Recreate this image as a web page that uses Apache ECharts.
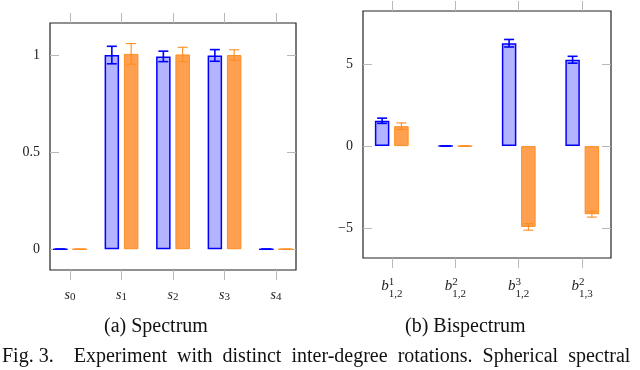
<!DOCTYPE html>
<html>
<head>
<meta charset="utf-8">
<script src="https://cdn.jsdelivr.net/npm/echarts@6/dist/echarts.min.js"></script>
<style>
html, body { margin: 0; padding: 0; background: #fff; }
#main { width: 640px; height: 370px; }
</style>
</head>
<body>
<div id="main"></div>
<script>
// (a) spectrum
var specSub = ['0', '1', '2', '3', '4'];
var specBlue = [0, 1.0, 0.993, 0.998, 0];
var specBlueErr = [0, 0.045, 0.027, 0.03, 0];
var specOrange = [0, 1.006, 1.003, 1.0, 0];
var specOrangeErr = [0, 0.053, 0.037, 0.027, 0];
var specTicks = [0, 0.5, 1];

// (b) bispectrum
var bispSup = ['1', '2', '3', '2'];
var bispSubA = ['1', '1', '1', '1'];
var bispSubB = [',2', ',2', ',2', ',3'];
var bispBlue = [1.55, 0, 6.29, 5.28];
var bispBlueErr = [0.16, 0, 0.23, 0.21];
var bispOrange = [1.22, 0, -4.94, -4.16];
var bispOrangeErr = [0.2, 0, 0.2, 0.18];
var bispTicks = [-5, 0, 5];

var BAR_W = 14.5;
var GAP = 0.33;
var SHIFT = (BAR_W + BAR_W * GAP) / 2;

var BLUE = '#0000ff', BLUE_FILL = '#b3b3ff';
var ORANGE = '#ff8c20', ORANGE_FILL = '#ffa050';
var FONT = 'Liberation Serif';
var TICK = '#b8b8b8';
var CLEAR = 'rgba(0,0,0,0)';

function idx(arr) { return arr.map(function (v, i) { return i; }); }
function pairs(vals) { return vals.map(function (v, i) { return [i, v]; }); }
function errData(vals, errs) {
    return vals.map(function (v, i) { return [i, v - errs[i], v + errs[i]]; });
}

function errSeries(grid, vals, errs, color, width, dx) {
    return {
        type: 'custom',
        xAxisIndex: grid * 2,
        yAxisIndex: grid * 2,
        z: 5,
        silent: true,
        data: errData(vals, errs),
        encode: { x: 0, y: [1, 2] },
        renderItem: function (params, api) {
            var lo = api.coord([api.value(0), api.value(1)]);
            var hi = api.coord([api.value(0), api.value(2)]);
            var x = lo[0] + dx, c = 5;
            var st = { stroke: color, lineWidth: width };
            return {
                type: 'group',
                children: [
                    { type: 'line', shape: { x1: x, y1: lo[1], x2: x, y2: hi[1] }, style: st },
                    { type: 'line', shape: { x1: x - c, y1: lo[1], x2: x + c, y2: lo[1] }, style: st },
                    { type: 'line', shape: { x1: x - c, y1: hi[1], x2: x + c, y2: hi[1] }, style: st }
                ]
            };
        }
    };
}

function barSeries(grid, vals, fill, border, bw) {
    return {
        type: 'bar',
        xAxisIndex: grid * 2,
        yAxisIndex: grid * 2,
        data: pairs(vals),
        barWidth: BAR_W,
        barGap: (GAP * 100) + '%',
        itemStyle: { color: fill, borderColor: border, borderWidth: bw },
        silent: true
    };
}

function xAxes(grid, ticks, min, max, label) {
    return [{
        type: 'value', gridIndex: grid, position: 'bottom', min: min, max: max,
        axisLine: { show: false, onZero: false }, splitLine: { show: false },
        axisTick: { show: true, inside: false, length: 10, customValues: ticks, lineStyle: { color: TICK } },
        axisLabel: label
    }, {
        type: 'value', gridIndex: grid, position: 'top', min: min, max: max,
        axisLine: { show: false, onZero: false }, splitLine: { show: false },
        axisTick: { show: true, inside: false, length: 10, customValues: ticks, lineStyle: { color: TICK } },
        axisLabel: { show: false }
    }];
}

function yAxes(grid, ticks, min, max) {
    var fmt = function (v) { return v < 0 ? '\u2212' + (-v) : String(v); };
    return [{
        type: 'value', gridIndex: grid, position: 'left', min: min, max: max,
        axisLine: { show: false, onZero: false }, splitLine: { show: false },
        axisTick: { show: true, inside: true, length: 9, customValues: ticks, lineStyle: { color: TICK } },
        axisLabel: { customValues: ticks, formatter: fmt, margin: 10, fontFamily: FONT, fontSize: 14, color: '#222' }
    }, {
        type: 'value', gridIndex: grid, position: 'right', min: min, max: max,
        axisLine: { show: false, onZero: false }, splitLine: { show: false },
        axisTick: { show: true, inside: true, length: 9, customValues: ticks, lineStyle: { color: TICK } },
        axisLabel: { show: false }
    }];
}

var specLabel = {
    customValues: idx(specSub), margin: 17,
    formatter: function (v) { return '{s|s}{sub|' + specSub[Math.round(v)] + '}'; },
    rich: {
        s: { fontFamily: FONT, fontStyle: 'italic', fontSize: 14, color: '#222', lineHeight: 16 },
        sub: { fontFamily: FONT, fontSize: 11, color: '#222', lineHeight: 16, verticalAlign: 'bottom' }
    }
};

// b with superscript over subscript: two lines, hidden glyphs keep both lines the same width
var bispLabel = {
    customValues: idx(bispSup), margin: 19,
    formatter: function (v) {
        var i = Math.round(v);
        return '{b|b}{sup|' + bispSup[i] + '}{hid|' + bispSubB[i] + '}\n' +
            '{bh|b}{sub|' + bispSubA[i] + bispSubB[i] + '}';
    },
    rich: {
        b: { fontFamily: FONT, fontStyle: 'italic', fontSize: 15, color: '#222', lineHeight: 17, verticalAlign: 'bottom' },
        sup: { fontFamily: FONT, fontSize: 11, color: '#222', lineHeight: 17, verticalAlign: 'top' },
        hid: { fontFamily: FONT, fontSize: 11, color: CLEAR, lineHeight: 17, verticalAlign: 'top' },
        bh: { fontFamily: FONT, fontStyle: 'italic', fontSize: 15, color: CLEAR, lineHeight: 1 },
        sub: { fontFamily: FONT, fontSize: 11, color: '#222', lineHeight: 1 }
    }
};

var chart = echarts.init(document.getElementById('main'), null, { renderer: 'canvas' });

var option = {
    animation: false,
    backgroundColor: '#fff',
    grid: [
        { left: 50, top: 23, width: 246, height: 247, show: true, borderColor: '#222', borderWidth: 1.2, containLabel: false },
        { left: 363, top: 11, width: 248, height: 247, show: true, borderColor: '#222', borderWidth: 1.2, containLabel: false }
    ],
    xAxis: xAxes(0, idx(specSub), -0.388, 4.388, specLabel)
        .concat(xAxes(1, idx(bispSup), -0.453, 3.453, bispLabel)),
    yAxis: yAxes(0, specTicks, -0.107, 1.165).concat(yAxes(1, bispTicks, -6.84, 8.26)),
    series: [
        barSeries(0, specBlue, BLUE_FILL, BLUE, 1.5),
        barSeries(0, specOrange, ORANGE_FILL, ORANGE, 1),
        errSeries(0, specBlue, specBlueErr, BLUE, 1.6, -SHIFT),
        errSeries(0, specOrange, specOrangeErr, ORANGE, 1.1, SHIFT),
        barSeries(1, bispBlue, BLUE_FILL, BLUE, 1.5),
        barSeries(1, bispOrange, ORANGE_FILL, ORANGE, 1),
        errSeries(1, bispBlue, bispBlueErr, BLUE, 1.6, -SHIFT),
        errSeries(1, bispOrange, bispOrangeErr, ORANGE, 1.1, SHIFT)
    ],
    graphic: [
        { type: 'text', left: 104, top: 317, style: { text: '(a) Spectrum', font: '20px "Liberation Serif"', fill: '#111' } },
        { type: 'text', left: 405, top: 317, style: { text: '(b) Bispectrum', font: '20px "Liberation Serif"', fill: '#111' } },
        { type: 'text', left: 2, top: 347, style: { text: 'Fig. 3.    Experiment  with  distinct  inter-degree  rotations.  Spherical  spectral', font: '20px "Liberation Serif"', fill: '#111' } }
    ]
};

chart.setOption(option);
</script>
</body>
</html>
